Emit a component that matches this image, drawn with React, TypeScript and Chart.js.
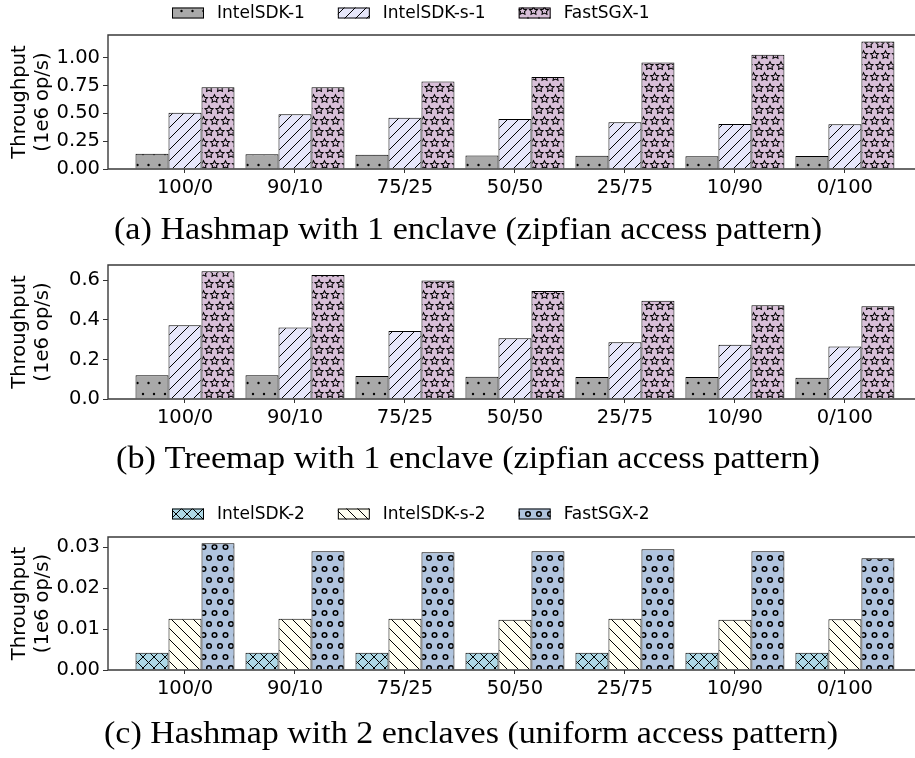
import React, { useEffect, useRef } from 'react';
import { Chart, registerables } from 'chart.js';

Chart.register(...registerables);

// ---------- data ----------
const categories = ['100/0', '90/10', '75/25', '50/50', '25/75', '10/90', '0/100'];

// (a) Hashmap, 1 enclave, zipfian
const hashIntelSDK1 = [0.138, 0.132, 0.127, 0.122, 0.118, 0.115, 0.117];
const hashIntelSDKs1 = [0.504, 0.492, 0.461, 0.45, 0.42, 0.405, 0.402];
const hashFastSGX1 = [0.735, 0.735, 0.785, 0.827, 0.955, 1.025, 1.145];

// (b) Treemap, 1 enclave, zipfian
const treeIntelSDK1 = [0.12, 0.12, 0.116, 0.113, 0.111, 0.111, 0.108];
const treeIntelSDKs1 = [0.373, 0.362, 0.344, 0.308, 0.287, 0.275, 0.266];
const treeFastSGX1 = [0.647, 0.627, 0.6, 0.546, 0.497, 0.474, 0.469];

// (c) Hashmap, 2 enclaves, uniform
const hash2IntelSDK2 = [0.0042, 0.0042, 0.0042, 0.0042, 0.0042, 0.0042, 0.0042];
const hash2IntelSDKs2 = [0.0125, 0.0125, 0.0125, 0.0123, 0.0125, 0.0123, 0.0124];
const hash2FastSGX2 = [0.031, 0.029, 0.0288, 0.029, 0.0295, 0.029, 0.0273];

const yTicksA = [0, 0.25, 0.5, 0.75, 1.0];
const yTicksB = [0, 0.2, 0.4, 0.6];
const yTicksC = [0, 0.01, 0.02, 0.03];

const captionA = '(a) Hashmap with 1 enclave (zipfian access pattern)';
const captionB = '(b) Treemap with 1 enclave (zipfian access pattern)';
const captionC = '(c) Hashmap with 2 enclaves (uniform access pattern)';
const yTitle = ['Throughput', '(1e6 op/s)'];

// ---------- patterns (matplotlib-like hatches) ----------
const S = 11;
function makePattern(kind: string, bg: string): CanvasPattern | string {
  const tile = document.createElement('canvas');
  const stag = kind === 'dots' || kind === 'stars' || kind === 'circles';
  tile.width = S;
  tile.height = stag ? S * 2 : S;
  const g = tile.getContext('2d')!;
  g.fillStyle = bg;
  g.fillRect(0, 0, tile.width, tile.height);
  g.strokeStyle = '#000';
  g.fillStyle = '#000';
  g.lineWidth = 1;
  const centers: [number, number][] = [];
  if (stag) {
    for (const dx of [0, S]) for (const dy of [0, 2 * S]) centers.push([dx, dy]);
    centers.push([S / 2, S]);
    centers.push([S / 2 - S, S]);
    centers.push([S / 2 + S, S]);
  }
  if (kind === 'dots') {
    for (const [x, y] of centers) {
      g.beginPath();
      g.arc(x, y, 1.2, 0, Math.PI * 2);
      g.fill();
    }
  } else if (kind === 'circles') {
    g.lineWidth = 1.5;
    for (const [x, y] of centers) {
      g.beginPath();
      g.arc(x, y, 2.3, 0, Math.PI * 2);
      g.stroke();
    }
  } else if (kind === 'stars') {
    g.lineWidth = 1.05;
    const R = 4.2;
    for (const [x, y] of centers) {
      g.beginPath();
      for (let k = 0; k < 10; k++) {
        const r = k % 2 === 0 ? R : R * 0.5;
        const ang = -Math.PI / 2 + (k * Math.PI) / 5;
        const px = x + r * Math.cos(ang);
        const py = y + r * Math.sin(ang);
        if (k === 0) g.moveTo(px, py);
        else g.lineTo(px, py);
      }
      g.closePath();
      g.stroke();
    }
  } else {
    g.lineWidth = 1;
    const fwd = kind === '/' || kind === 'x';
    const back = kind === '\\' || kind === 'x';
    for (const k of [-S, 0, S]) {
      if (fwd) {
        g.beginPath();
        g.moveTo(k - 1, S + 1);
        g.lineTo(k + S + 1, -1);
        g.stroke();
      }
      if (back) {
        g.beginPath();
        g.moveTo(k - 1, -1);
        g.lineTo(k + S + 1, S + 1);
        g.stroke();
      }
    }
  }
  const ctx = document.createElement('canvas').getContext('2d')!;
  return ctx.createPattern(tile, 'repeat') || bg;
}

// ---------- drawing helpers ----------
function fitText(ctx: CanvasRenderingContext2D, text: string, left: number, width: number, y: number) {
  const w = ctx.measureText(text).width;
  ctx.save();
  ctx.translate(left, y);
  ctx.scale(width / w, 1);
  ctx.textAlign = 'left';
  ctx.fillText(text, 0, 0);
  ctx.restore();
}

const decorPlugin = {
  id: 'decor',
  afterDraw(chart: any, _args: any, opts: any) {
    const { ctx, chartArea: a } = chart;
    ctx.save();
    ctx.strokeStyle = '#3a3a3a';
    ctx.lineWidth = 1.4;
    ctx.beginPath();
    ctx.moveTo(a.right + 10, a.top);
    ctx.lineTo(a.left, a.top);
    ctx.lineTo(a.left, a.bottom);
    ctx.lineTo(a.right + 10, a.bottom);
    ctx.stroke();

    if (opts.legend) {
      const L = opts.legend;
      ctx.font = L.font;
      let x = L.start;
      chart.data.datasets.forEach((ds: any) => {
        ctx.fillStyle = ds.backgroundColor;
        ctx.fillRect(x, L.cy - L.boxH / 2, L.boxW, L.boxH);
        ctx.strokeStyle = '#000';
        ctx.lineWidth = 1;
        ctx.strokeRect(x + 0.5, L.cy - L.boxH / 2 + 0.5, L.boxW - 1, L.boxH - 1);
        ctx.fillStyle = '#000';
        ctx.textBaseline = 'middle';
        ctx.textAlign = 'left';
        const tx = x + L.boxW + L.pad;
        ctx.fillText(ds.label, tx, L.cy + 1);
        x = tx + ctx.measureText(ds.label).width + L.colSpace;
      });
    }
    if (opts.caption) {
      const C = opts.caption;
      ctx.fillStyle = '#000';
      ctx.font = C.font;
      ctx.textBaseline = 'alphabetic';
      fitText(ctx, C.text, C.left, C.width, C.baseline);
    }
    ctx.restore();
  },
};

const tickFont = { family: 'DejaVu Sans', size: 19.5 };

function makeConfig(
  datasets: any[],
  yMax: number,
  yTicks: number[],
  decimals: number,
  padTop: number,
  padBottom: number,
  decor: any
) {
  const tickGrid = {
    display: true,
    drawOnChartArea: false,
    drawTicks: true,
    offset: false,
    tickColor: '#333',
    tickWidth: 1,
  };
  return {
    type: 'bar' as const,
    data: {
      datasets: datasets.map((d) => ({
        label: d.label,
        data: d.values.map((v: number, i: number) => ({ x: i, y: v })),
        backgroundColor: d.bg,
        borderColor: '#000',
        borderWidth: 1,
        categoryPercentage: 0.9,
        barPercentage: 1.0,
      })),
    },
    options: {
      animation: false,
      responsive: false,
      devicePixelRatio: 1,
      layout: { padding: { top: padTop, bottom: padBottom, left: 0, right: 7 } },
      plugins: {
        legend: { display: false },
        tooltip: { enabled: false },
        title: { display: false },
        decor,
      },
      scales: {
        x: {
          type: 'linear',
          min: -0.7,
          max: 6.71,
          offset: false,
          afterBuildTicks: (s: any) => {
            s.ticks = categories.map((_, i) => ({ value: i }));
          },
          afterFit: (s: any) => {
            s.height = 40;
          },
          ticks: {
            autoSkip: false,
            maxRotation: 0,
            minRotation: 0,
            padding: 3,
            color: '#000',
            font: tickFont,
            callback: (v: number) => categories[v] ?? '',
          },
          grid: { ...tickGrid, tickLength: 4 },
          border: { display: false },
        },
        y: {
          type: 'linear',
          min: 0,
          max: yMax,
          afterBuildTicks: (s: any) => {
            s.ticks = yTicks.map((v) => ({ value: v }));
          },
          afterFit: (s: any) => {
            s.width = 108;
          },
          ticks: {
            padding: 3,
            color: '#000',
            font: tickFont,
            callback: (v: number) => Number(v).toFixed(decimals),
          },
          title: {
            display: true,
            text: yTitle,
            color: '#000',
            font: tickFont,
            padding: { top: 8, bottom: 0 },
          },
          grid: { ...tickGrid, tickLength: 5 },
          border: { display: false },
        },
      },
    },
    plugins: [decorPlugin],
  };
}

const captionFont = '31px "Liberation Serif"';

function legendOpts(cy: number) {
  return {
    start: 172,
    cy,
    boxW: 32,
    boxH: 11,
    pad: 13,
    colSpace: 33,
    font: '17px "DejaVu Sans"',
  };
}

function buildA() {
  return makeConfig(
    [
      { label: 'IntelSDK-1', values: hashIntelSDK1, bg: makePattern('dots', '#a9a9a9') },
      { label: 'IntelSDK-s-1', values: hashIntelSDKs1, bg: makePattern('/', '#e6e6fa') },
      { label: 'FastSGX-1', values: hashFastSGX1, bg: makePattern('stars', '#d8bfd8') },
    ],
    1.203,
    yTicksA,
    2,
    35,
    49,
    {
      legend: legendOpts(13),
      caption: { text: captionA, font: captionFont, left: 114, width: 708, baseline: 239 },
    }
  );
}

function buildB() {
  return makeConfig(
    [
      { label: 'IntelSDK-1', values: treeIntelSDK1, bg: makePattern('dots', '#a9a9a9') },
      { label: 'IntelSDK-s-1', values: treeIntelSDKs1, bg: makePattern('/', '#e6e6fa') },
      { label: 'FastSGX-1', values: treeFastSGX1, bg: makePattern('stars', '#d8bfd8') },
    ],
    0.678,
    yTicksB,
    1,
    25,
    41,
    {
      caption: { text: captionB, font: captionFont, left: 116, width: 704, baseline: 228 },
    }
  );
}

function buildC() {
  return makeConfig(
    [
      { label: 'IntelSDK-2', values: hash2IntelSDK2, bg: makePattern('x', '#add8e6') },
      { label: 'IntelSDK-s-2', values: hash2IntelSDKs2, bg: makePattern('\\', '#fffff0') },
      { label: 'FastSGX-2', values: hash2FastSGX2, bg: makePattern('circles', '#b0c4de') },
    ],
    0.0325,
    yTicksC,
    2,
    67,
    48,
    {
      legend: legendOpts(44),
      caption: { text: captionC, font: captionFont, left: 104, width: 734, baseline: 273 },
    }
  );
}

function Panel({ top, height, build }: { top: number; height: number; build: () => any }) {
  const ref = useRef<HTMLCanvasElement | null>(null);
  useEffect(() => {
    if (!ref.current) return;
    const chart = new Chart(ref.current, build());
    return () => chart.destroy();
  }, [build]);
  return (
    <canvas
      ref={ref}
      width={930}
      height={height}
      style={{ position: 'absolute', left: 0, top, width: 930, height }}
    />
  );
}

export default function App() {
  return (
    <div
      style={{
        position: 'absolute',
        left: 0,
        top: 0,
        width: 915,
        height: 758,
        overflow: 'hidden',
        background: '#fff',
      }}
    >
      <Panel top={0} height={258} build={buildA} />
      <Panel top={240} height={240} build={buildB} />
      <Panel top={470} height={288} build={buildC} />
    </div>
  );
}
